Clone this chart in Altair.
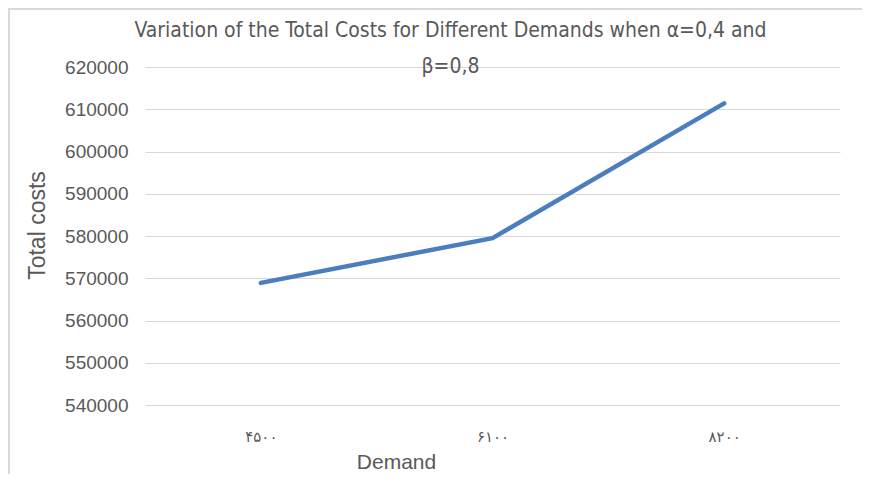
import altair as alt
import pandas as pd

demand_labels = ["۴۵۰۰", "۶۱۰۰", "۸۲۰۰"]
total_costs = [568900, 579500, 611400]
y_ticks = [540000, 550000, 560000, 570000, 580000, 590000, 600000, 610000, 620000]

df = pd.DataFrame({"Demand": demand_labels, "Total costs": total_costs})

W, H = 695, 338
PL, PT = 137, 59
GRAY = "#595959"
GRID = "#d9d9d9"

line = alt.Chart(df).mark_line(color="#4a7ebf", strokeWidth=4.5, strokeCap="round").encode(
    x=alt.X("Demand:N", sort=demand_labels,
            scale=alt.Scale(type="point", padding=0.5),
            axis=alt.Axis(title="Demand", labelAngle=0, grid=False, domain=False, ticks=False,
                          tickSize=0, labelPadding=24, labelFont="DejaVu Sans", labelFontSize=15,
                          labelColor=GRAY, titleFont="Liberation Sans", titleFontSize=21,
                          titleFontWeight="normal", titleColor=GRAY,
                          titleX=251, titleY=57, titleBaseline="middle", titleAlign="center")),
    y=alt.Y("Total costs:Q",
            scale=alt.Scale(domain=[540000, 620000], zero=False, nice=False),
            axis=alt.Axis(title="Total costs", values=y_ticks, format="d", grid=True,
                          gridColor=GRID, gridWidth=1, domain=False, ticks=False, tickSize=0,
                          labelPadding=17, labelFont="Liberation Sans", labelFontSize=19,
                          labelColor=GRAY, titleFont="Liberation Sans", titleFontSize=23,
                          titleFontWeight="normal", titleColor=GRAY,
                          titleX=-108, titleY=158, titleAlign="center", titleBaseline="middle")),
)

border_left = alt.Chart(df).mark_rule(color=GRID, strokeWidth=2).encode(
    x=alt.value(-PL + 1), y=alt.value(-PT), y2=alt.value(H + 120))
border_top = alt.Chart(df).mark_rule(color=GRID, strokeWidth=2).encode(
    x=alt.value(-PL), x2=alt.value(W + 120), y=alt.value(-PT + 1))

chart = alt.layer(border_left, border_top, line).properties(
    width=W, height=H,
    view=alt.ViewBackground(stroke=None),
    autosize=alt.AutoSizeParams(type="none"),
    padding={"left": PL, "top": PT, "right": 870 - 16 - PL - W, "bottom": 482 - 16 - PT - H},
    title=alt.TitleParams(
        text=["Variation of the Total Costs for Different Demands when α=0,4 and", "β=0,8"],
        font="DejaVu Sans Condensed, Liberation Sans", fontSize=21, fontWeight="normal", color=GRAY,
        lineHeight=36, anchor="middle", dx=-42, offset=-70),
).configure_view(strokeWidth=0, stroke="white", strokeOpacity=0).configure_axisX(
    grid=False).configure(background="white")

chart.save("out.html", embed_options={"renderer": "svg", "actions": False})
